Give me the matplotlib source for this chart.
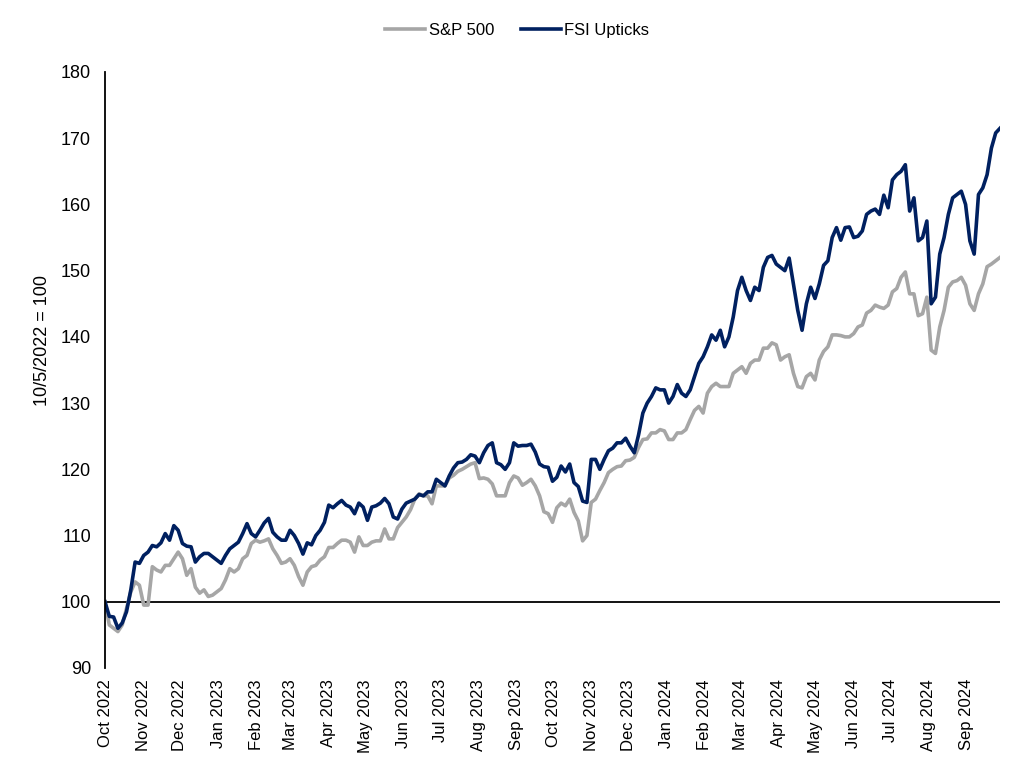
import numpy as np
import pandas as pd
import matplotlib
matplotlib.use("Agg")
from matplotlib import pyplot as plt
import matplotlib.dates as mdates

plt.rcParams['font.family'] = ['Liberation Sans', 'DejaVu Sans']

# twice-weekly observations (every 3.5 days), indexed 10/5/2022 = 100
dates = pd.date_range('2022-10-05', periods=209, freq='84h')

sp500 = [100.0, 96.5, 96.0, 95.5, 96.5, 99.0, 101.5, 103.0, 102.5, 99.5,
         99.5, 105.3, 104.8, 104.5, 105.5, 105.5, 106.5, 107.5, 106.5, 104.0,
         105.0, 102.2, 101.3, 101.8, 100.8, 101.0, 101.5, 102.0, 103.3, 105.0,
         104.5, 105.0, 106.5, 107.0, 108.8, 109.3, 109.0, 109.2, 109.5, 108.0,
         107.0, 105.8, 106.0, 106.5, 105.5, 103.8, 102.5, 104.5, 105.3, 105.5,
         106.3, 106.8, 108.2, 108.2, 108.8, 109.3, 109.3, 109.0, 107.5, 109.8,
         108.5, 108.5, 109.0, 109.2, 109.2, 111.0, 109.5, 109.5, 111.2, 112.0,
         112.8, 113.9, 115.5, 116.3, 116.0, 116.0, 114.8, 117.5, 117.5, 117.5,
         118.7, 119.1, 119.7, 120.0, 120.4, 120.8, 121.0, 118.6, 118.7, 118.5,
         117.8, 116.0, 116.0, 116.0, 118.0, 119.0, 118.7, 117.6, 118.0, 118.5,
         117.5, 116.0, 113.6, 113.3, 112.0, 114.2, 114.9, 114.5, 115.5, 113.5,
         112.2, 109.2, 110.0, 115.0, 115.5, 116.8, 118.0, 119.5, 120.0, 120.4,
         120.5, 121.3, 121.4, 121.8, 123.3, 124.5, 124.6, 125.5, 125.5, 126.0,
         125.8, 124.5, 124.5, 125.5, 125.5, 126.0, 127.5, 128.9, 129.5, 128.5,
         131.5, 132.5, 133.0, 132.5, 132.5, 132.5, 134.5, 135.0, 135.5, 134.5,
         136.0, 136.5, 136.5, 138.3, 138.3, 139.1, 138.8, 136.5, 137.0, 137.3,
         134.5, 132.5, 132.3, 134.0, 134.5, 133.5, 136.5, 137.8, 138.5, 140.3,
         140.3, 140.2, 140.0, 140.0, 140.5, 141.5, 141.8, 143.6, 144.0, 144.8,
         144.5, 144.3, 144.8, 146.8, 147.3, 149.0, 149.8, 146.5, 146.5, 143.2,
         143.5, 146.0, 138.0, 137.5, 141.5, 144.0, 147.5, 148.3, 148.5, 149.0,
         147.8, 145.0, 144.0, 146.5, 148.0, 150.6, 151.0, 151.5, 152.0]

fsi = [100.0, 97.8, 97.7, 96.0, 96.8, 98.5, 101.8, 106.0, 105.8, 107.0,
       107.5, 108.5, 108.3, 108.9, 110.3, 109.3, 111.5, 110.8, 108.8, 108.4,
       108.3, 106.0, 106.8, 107.3, 107.3, 106.8, 106.3, 105.8, 107.0, 108.0,
       108.5, 109.0, 110.3, 111.8, 110.3, 109.8, 110.8, 111.9, 112.6, 110.5,
       109.8, 109.3, 109.3, 110.8, 110.0, 108.8, 107.2, 108.9, 108.6, 110.0,
       110.8, 112.0, 114.6, 114.2, 114.8, 115.3, 114.6, 114.3, 113.3, 114.9,
       114.3, 112.3, 114.3, 114.5, 114.9, 115.6, 114.8, 112.8, 112.5, 114.0,
       114.9, 115.2, 115.5, 116.2, 116.0, 116.6, 116.6, 118.5, 118.0, 117.5,
       119.0, 120.2, 121.0, 121.1, 121.5, 122.2, 122.0, 121.0, 122.5, 123.6,
       124.0, 121.0, 120.7, 120.0, 121.0, 124.0, 123.5, 123.6, 123.6, 123.8,
       122.6, 120.8, 120.4, 120.3, 118.2, 118.8, 120.5, 119.6, 120.8, 118.0,
       117.4, 115.2, 115.0, 121.5, 121.5, 120.0, 121.5, 122.8, 123.2, 124.0,
       124.0, 124.7, 123.5, 122.5, 125.2, 128.5, 130.0, 131.0, 132.3, 132.0,
       132.0, 130.0, 131.0, 132.8, 131.5, 131.0, 132.0, 134.0, 136.0, 137.0,
       138.5, 140.3, 139.5, 141.0, 138.5, 140.0, 143.0, 147.0, 149.0, 147.0,
       145.5, 147.5, 147.0, 150.5, 152.0, 152.3, 151.0, 150.5, 150.0, 151.9,
       148.0, 144.0, 141.0, 145.0, 147.5, 145.8, 148.0, 150.8, 151.5, 155.0,
       156.5, 154.6, 156.5, 156.6, 155.0, 155.2, 156.0, 158.5, 159.0, 159.3,
       158.5, 161.4, 159.5, 163.7, 164.5, 165.0, 166.0, 159.0, 161.0, 154.5,
       155.0, 157.5, 145.0, 146.0, 152.5, 155.0, 158.5, 161.0, 161.5, 162.0,
       160.0, 154.5, 152.5, 161.5, 162.5, 164.5, 168.5, 170.8, 171.5]

fig = plt.figure(figsize=(10.24, 7.76), dpi=100)
ax = fig.add_axes([105/1024, 1 - 668/776, 895/1024, 596/776])

ax.plot(dates, sp500, color='#A6A6A6', lw=2.6, label='S&P 500')
ax.plot(dates, fsi, color='#002060', lw=2.6, label='FSI Upticks')
ax.axhline(100, color='black', lw=1.3, zorder=1)

ax.set_ylim(90, 180)
ax.set_yticks(np.arange(90, 181, 10))
ax.set_xlim(dates[0], dates[-1])
ax.set_xticks(pd.date_range('2022-10-01', '2024-09-30', freq='MS') + pd.Timedelta(days=4))
ax.xaxis.set_major_formatter(mdates.DateFormatter('%b %Y'))
plt.setp(ax.get_xticklabels(), rotation=90, ha='center', va='top')

for s in ['top', 'right', 'bottom']:
    ax.spines[s].set_visible(False)
ax.spines['left'].set_linewidth(1.3)
ax.tick_params(axis='both', length=0)
ax.tick_params(axis='y', pad=10, labelsize=13)
ax.tick_params(axis='x', pad=8, labelsize=12)
ax.set_ylabel('10/5/2022 = 100', fontsize=13)
ax.yaxis.set_label_coords(-0.06, 0.55)

fig.legend(loc='center', bbox_to_anchor=(0.505, 0.961), ncol=2, frameon=False,
           fontsize=12, handlelength=2.4, handletextpad=0.2, columnspacing=1.6)

fig.savefig('out.png', dpi=100)
